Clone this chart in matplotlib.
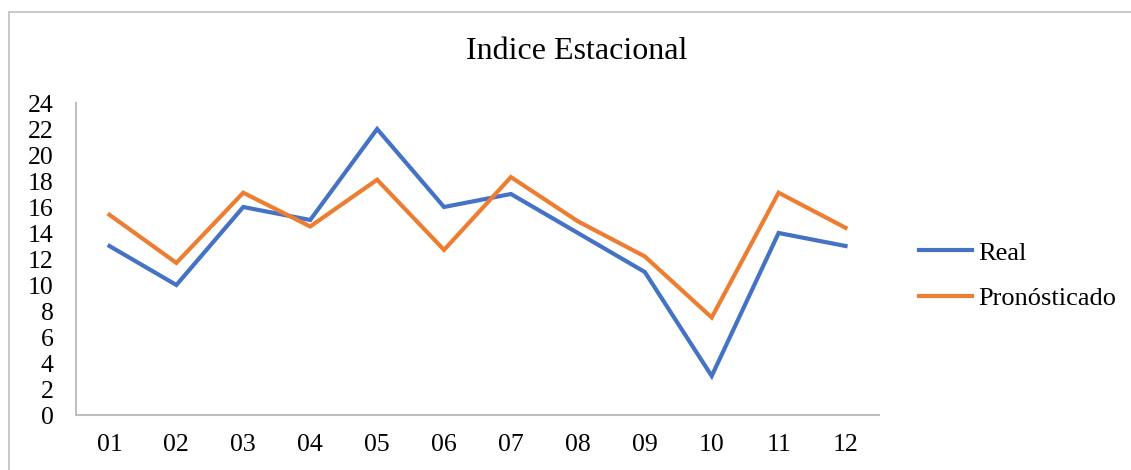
import matplotlib
matplotlib.use("Agg")
import matplotlib.pyplot as plt
from matplotlib.patches import Rectangle

months = ["01", "02", "03", "04", "05", "06", "07", "08", "09", "10", "11", "12"]
real = [13, 10, 16, 15, 22, 16, 17, 14, 11, 3, 14, 13]
pronostico = [15.4, 11.7, 17.1, 14.5, 18.1, 12.7, 18.3, 14.9, 12.2, 7.5, 17.1, 14.4]
yticks = list(range(0, 25, 2))

plt.rcParams['font.family'] = ['Liberation Serif', 'DejaVu Serif']

W, H = 1131, 470
fig = plt.figure(figsize=(W / 100, H / 100), dpi=100)
ax = fig.add_axes([76 / W, 1 - 415 / H, (879 - 76) / W, (415 - 103) / H])

x = list(range(len(months)))
ax.plot(x, real, color="#4472C4", lw=3, label="Real", solid_joinstyle="miter")
ax.plot(x, pronostico, color="#ED7D31", lw=3, label="Pronósticado", solid_joinstyle="miter")

ax.set_xlim(-0.5, len(months) - 0.5)
ax.set_ylim(0, 24)
ax.set_xticks(x)
ax.set_xticklabels(months)
ax.set_yticks(yticks)
ax.tick_params(length=0, labelsize=18.5, colors="black")
ax.tick_params(axis="x", pad=14)
ax.tick_params(axis="y", pad=16)
for s in ["top", "right"]:
    ax.spines[s].set_visible(False)
for s in ["left", "bottom"]:
    ax.spines[s].set_color("#bfbfbf")
    ax.spines[s].set_linewidth(1.5)

fig.text(577 / W, 1 - 52 / H, "Indice Estacional", ha="center", va="center", fontsize=23)

leg = fig.legend(loc="center left", bbox_to_anchor=(919 / W, 1 - 275.5 / H), frameon=False,
                 fontsize=19, handlelength=2.0, handletextpad=0.25, labelspacing=0.82,
                 borderpad=0, borderaxespad=0)

fig.patches.append(Rectangle((9 / W, -0.1), 1.2, 1 - 12 / H + 0.1, transform=fig.transFigure,
                             fill=False, edgecolor="#bfbfbf", lw=1.2))

fig.savefig("out.png", dpi=100)
